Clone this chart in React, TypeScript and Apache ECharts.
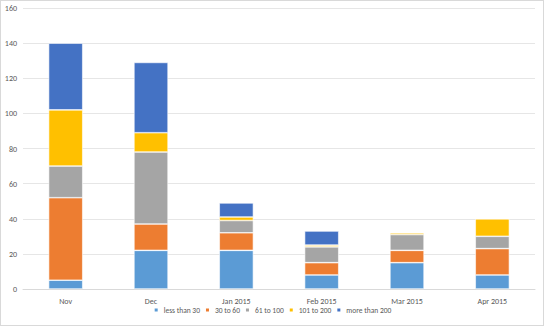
import React, { useEffect, useRef } from "react";
import * as echarts from "echarts";

const categories = ["Nov", "Dec", "Jan 2015", "Feb 2015", "Mar 2015", "Apr 2015"];
const seriesNames = ["less than 30", "30 to 60", "61 to 100", "101 to 200", "more than 200"];
const lessThan30 = [5, 22, 22, 8, 15, 8];
const from30to60 = [47, 15, 10, 7, 7, 15];
const from61to100 = [18, 41, 7, 9, 9, 7];
const from101to200 = [32, 11, 2, 1, 1, 10];
const moreThan200 = [38, 40, 8, 8, 0, 0];
const colors = ["#5B9BD5", "#ED7D31", "#A5A5A5", "#FFC000", "#4472C4"];
const yTicks = { min: 0, max: 160, interval: 20 };

export default function App() {
  const ref = useRef<HTMLDivElement>(null);
  useEffect(() => {
    if (!ref.current) return;
    const chart = echarts.init(ref.current, undefined, { renderer: "svg" });
    const values = [lessThan30, from30to60, from61to100, from101to200, moreThan200];
    const font = "Carlito, 'Liberation Sans', Arial, sans-serif";
    chart.setOption({
      animation: false,
      backgroundColor: "#ffffff",
      textStyle: { fontFamily: font },
      grid: { left: 22, right: 8, top: 7, bottom: 36, containLabel: false },
      legend: {
        bottom: 6,
        left: "center",
        itemWidth: 5,
        itemHeight: 5,
        itemGap: 4,
        icon: "rect",
        textStyle: { fontSize: 7.5, color: "#595959", fontFamily: font },
        data: seriesNames,
      },
      xAxis: {
        type: "category",
        data: categories,
        axisLine: { lineStyle: { color: "#D9D9D9" } },
        axisTick: { show: false },
        axisLabel: { fontSize: 8, color: "#595959", margin: 8 },
      },
      yAxis: {
        type: "value",
        min: yTicks.min,
        max: yTicks.max,
        interval: yTicks.interval,
        axisLine: { show: false },
        axisTick: { show: false },
        splitLine: { lineStyle: { color: "#E6E6E6" } },
        axisLabel: { fontSize: 8, color: "#595959", margin: 6 },
      },
      series: seriesNames.map((name, i) => ({
        name,
        type: "bar",
        stack: "total",
        barWidth: "40%",
        data: values[i],
        itemStyle: { color: colors[i], borderColor: "#ffffff", borderWidth: 0.6 },
      })),
    });
    return () => chart.dispose();
  }, []);
  return (
    <div
      ref={ref}
      style={{
        position: "absolute",
        left: 0,
        top: 0,
        width: 544,
        height: 326,
        boxSizing: "border-box",
        border: "1px solid #D9D9D9",
      }}
    />
  );
}
